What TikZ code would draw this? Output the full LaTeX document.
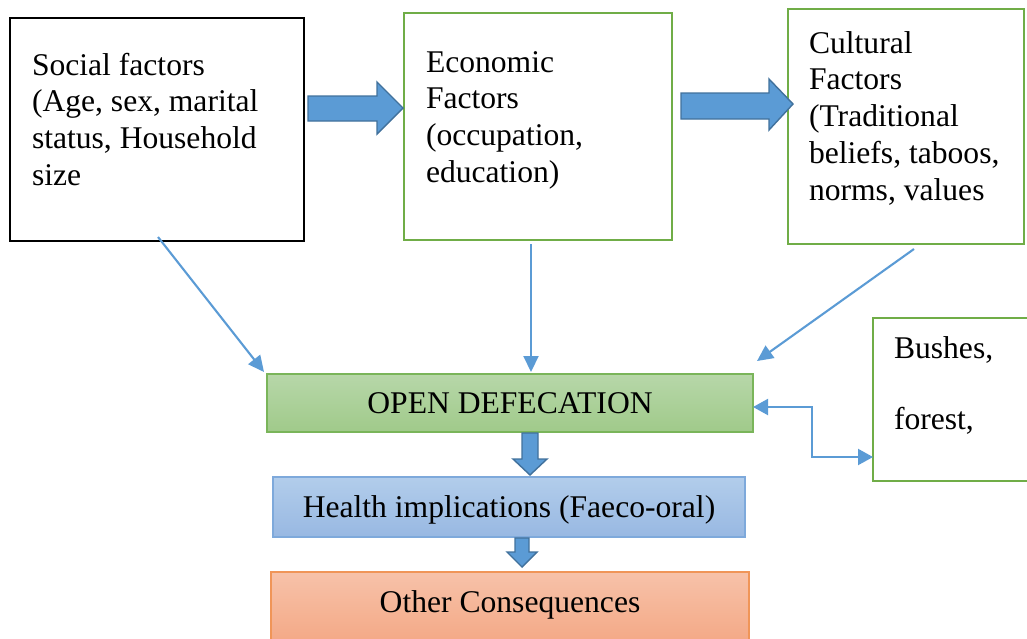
\documentclass[tikz,border=0pt]{standalone}
\usepackage{fontspec}
\setmainfont{Liberation Serif}
\usetikzlibrary{arrows.meta}
\definecolor{arrblue}{HTML}{5B9BD5}
\definecolor{arrdark}{HTML}{41719C}
\definecolor{grn}{HTML}{70AD47}
\definecolor{odtop}{HTML}{B7D7A9}
\definecolor{odbot}{HTML}{A0CA8A}
\definecolor{odline}{HTML}{7AB55A}
\definecolor{hitop}{HTML}{B2CDEB}
\definecolor{hibot}{HTML}{98B8E2}
\definecolor{hiline}{HTML}{7EA9DB}
\definecolor{ottop}{HTML}{F7C2A9}
\definecolor{otbot}{HTML}{F3A581}
\definecolor{otline}{HTML}{F09558}
\begin{document}
\begin{tikzpicture}[x=1pt,y=-1pt,
  every node/.style={inner sep=0pt, outer sep=0pt},
  txt/.style={font=\fontsize{31.6}{36.8}\selectfont},
  factbox/.style={draw, rectangle, line width=2.5pt, fill=white, anchor=north west},
  flowbox/.style={rectangle, line width=1.8pt, anchor=north west, txt, text height=21.5pt, text depth=0pt},
  blockarrow/.style={fill=arrblue, draw=arrdark, line width=1.4pt, line join=miter},
  thinarrow/.style={draw=arrblue, line width=2.1pt, -{Triangle[length=16pt,width=15pt]}},
  dblarrow/.style={draw=arrblue, line width=2.1pt, {Triangle[length=15pt,width=16pt]}-{Triangle[length=15pt,width=16pt]}}
]
\useasboundingbox (0,0) rectangle (1027,638);
\clip (0,0) rectangle (1027,638);

% factor boxes
\node[factbox, draw=black, minimum width=294pt, minimum height=223pt] (social) at (10,18) {};
\node[factbox, draw=grn, minimum width=268pt, minimum height=227pt] (econ) at (404,13) {};
\node[factbox, draw=grn, minimum width=236pt, minimum height=235pt] (cult) at (788,9) {};
\node[factbox, draw=grn, minimum width=170pt, minimum height=163pt] (bush) at (873,318) {};

% texts
\node[txt, anchor=base west] (socialtxt) at (32,75) {\parbox[t]{400pt}{\raggedright Social factors\\(Age, sex, marital\\status, Household\\size}};
\node[txt, anchor=base west] (econtxt) at (426,72) {\parbox[t]{400pt}{\raggedright Economic\\Factors\\(occupation,\\education)}};
\node[txt, anchor=base west] (culttxt) at (809,53) {\parbox[t]{400pt}{\raggedright Cultural\\Factors\\(Traditional\\beliefs, taboos,\\norms, values}};
\node[txt, anchor=base west] (bushtxt) at (894,358) {\parbox[t]{400pt}{\raggedright Bushes,\\[35pt]forest,}};

% flow boxes
\node[flowbox, draw=odline, top color=odtop, bottom color=odbot, minimum width=486pt, minimum height=58pt] (od) at (267,374) {OPEN DEFECATION};
\node[flowbox, draw=hiline, top color=hitop, bottom color=hibot, minimum width=472pt, minimum height=60pt] (health) at (273,477) {Health implications (Faeco-oral)};
\node[flowbox, draw=otline, top color=ottop, bottom color=otbot, minimum width=478pt, minimum height=80pt, text depth=21.5pt] (other) at (271,572) {Other Consequences};

% block arrows
\draw[blockarrow] (308,96) -- (377,96) -- (377,82) -- (403,108) -- (377,134) -- (377,121) -- (308,121) -- cycle;
\draw[blockarrow] (681,93) -- (769,93) -- (769,79) -- (793,104) -- (769,130) -- (769,119) -- (681,119) -- cycle;
\draw[blockarrow] (522,433) -- (538,433) -- (538,459) -- (547,459) -- (530,475) -- (513,459) -- (522,459) -- cycle;
\draw[blockarrow] (515,538) -- (529,538) -- (529,552) -- (537,552) -- (522,567) -- (507,552) -- (515,552) -- cycle;

% thin connectors
\coordinate (s1) at (158,237);
\coordinate (e1) at (531,244);
\coordinate (c1) at (914,249);
\coordinate (c2) at (757,361);
\draw[thinarrow] (s1) -- ([xshift=-3pt,yshift=2pt]od.north west);
\draw[thinarrow] (e1) -- ([yshift=2pt]od.north -| e1);
\draw[thinarrow] (c1) -- (c2);
\draw[dblarrow] ([yshift=-4pt]od.east) -| (812,457) -- (bush.west |- 0,457);
\end{tikzpicture}
\end{document}
